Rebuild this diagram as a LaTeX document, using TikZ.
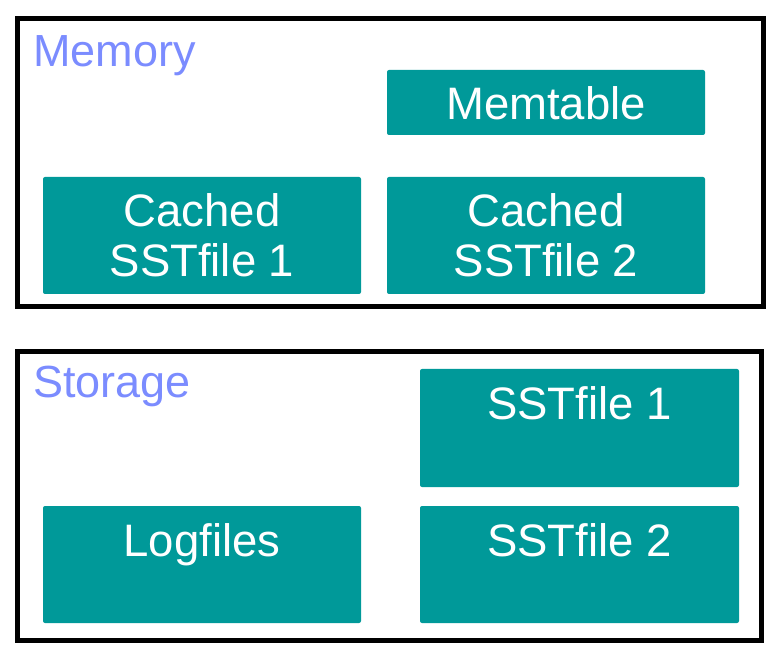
\documentclass[tikz,border=0pt]{standalone}
\usepackage{fontspec}
\setmainfont{Liberation Sans}
\definecolor{tealbox}{HTML}{009999}
\definecolor{labelblue}{HTML}{7B8CFF}
\begin{document}
\begin{tikzpicture}[x=1pt,y=-1pt,
  frame/.style={draw=black,line width=5pt,fill=white},
  cell/.style={fill=tealbox,rounded corners=2pt,draw=none},
  celltext/.style={text=white,font=\fontsize{45.5}{50}\selectfont,anchor=base,align=center,inner sep=0pt},
  section/.style={text=labelblue,font=\fontsize{45}{50}\selectfont,anchor=base west,inner sep=0pt}]
\fill[white] (0,0) rectangle (774,660);
\useasboundingbox (0,0) rectangle (774,660);
% frames
\draw[frame] (17,19) rectangle (763,307);
\draw[frame] (17,352) rectangle (761,640);
\node[section] (mem) at (33,67) {Memory};
\node[section] (sto) at (33,397) {Storage};
% memory cells
\fill[cell] (387,70) rectangle (705,135);
\node[celltext] (memtable) at (546,120) {Memtable};
\fill[cell] (43,177) rectangle (361,294);
\node[celltext] (c1) at (202,277) {Cached\\SSTfile 1};
\fill[cell] (387,177) rectangle (705,294);
\node[celltext] (c2) at (546,277) {Cached\\SSTfile 2};
% storage cells
\fill[cell] (420,369) rectangle (739,487);
\node[celltext] (s1) at (579.5,419) {SSTfile 1};
\fill[cell] (420,506) rectangle (739,623);
\node[celltext] (s2) at (579.5,556) {SSTfile 2};
\fill[cell] (43,506) rectangle (361,623);
\node[celltext] (log) at (202,556) {Logfiles};
\end{tikzpicture}
\end{document}
